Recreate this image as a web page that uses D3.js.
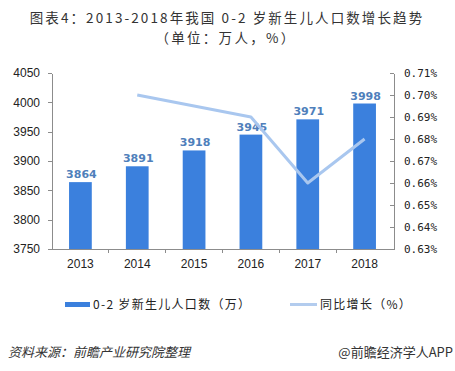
<!DOCTYPE html>
<html lang="zh">
<head>
<meta charset="UTF-8">
<title>0-2岁新生儿人口数增长趋势</title>
<script src="https://d3js.org/d3.v7.min.js"></script>
<style>
  body { margin: 0; background: #fff; }
  svg { display: block; }
  .axis path, .axis line { stroke: #8c8c8c; shape-rendering: crispEdges; }
  .axis text { fill: #222; }
</style>
</head>
<body>
<svg></svg>
<script>
var years = ["2013", "2014", "2015", "2016", "2017", "2018"];
var births = [3864, 3891, 3918, 3945, 3971, 3998];
var growthYears = ["2014", "2015", "2016", "2017", "2018"];
var growth = [0.700, 0.695, 0.690, 0.660, 0.680];
var leftTicks = [3750, 3800, 3850, 3900, 3950, 4000, 4050];
var rightTicks = [0.63, 0.64, 0.65, 0.66, 0.67, 0.68, 0.69, 0.70, 0.71];

var w = 455, h = 371;
var padding = { top: 73, right: 62, bottom: 122, left: 52 };

var svg = d3.select("svg").attr("width", w).attr("height", h);

var x = d3.scaleBand().domain(years)
    .range([padding.left, w - padding.right])
    .paddingInner(0.6).paddingOuter(0.3);
var yL = d3.scaleLinear().domain([3750, 4050]).range([h - padding.bottom, padding.top]);
var yR = d3.scaleLinear().domain([0.63, 0.71]).range([h - padding.bottom, padding.top]);

// title
svg.append("text").attr("x", 227).attr("y", 23).attr("text-anchor", "middle")
    .style("font-family", "'Noto Sans CJK SC', sans-serif").style("font-size", "13.5px")
    .style("letter-spacing", "2.1px").style("fill", "#333")
    .text("图表4：2013-2018年我国 0-2 岁新生儿人口数增长趋势");
svg.append("text").attr("x", 226).attr("y", 43).attr("text-anchor", "middle")
    .style("font-family", "'Noto Sans CJK SC', sans-serif").style("font-size", "13.5px")
    .style("letter-spacing", "2.3px").style("fill", "#333")
    .text("（单位：万人，%）");

// left axis
var gL = svg.append("g").attr("class", "axis")
    .attr("transform", "translate(" + padding.left + ",0)")
    .call(d3.axisLeft(yL).tickValues(leftTicks).tickSize(4).tickSizeOuter(0).tickPadding(8)
        .tickFormat(d3.format("d")));
gL.selectAll("text").style("font-family", "'Liberation Sans', Arial, sans-serif").style("font-size", "12px");

// right axis
var gR = svg.append("g").attr("class", "axis")
    .attr("transform", "translate(" + (w - padding.right + 1) + ",0)")
    .call(d3.axisRight(yR).tickValues(rightTicks).tickSize(-4).tickSizeOuter(0).tickPadding(10)
        .tickFormat(function(d) { return d3.format(".2f")(d) + "%"; }));
gR.selectAll("text").style("font-family", "'DejaVu Sans Mono', monospace").style("font-size", "11px");

// bars
svg.append("g").selectAll("rect").data(births).enter().append("rect")
    .attr("x", function(d, i) { return x(years[i]); })
    .attr("y", function(d) { return yL(d); })
    .attr("width", x.bandwidth())
    .attr("height", function(d) { return yL(3750) - yL(d); })
    .attr("fill", "#3b80dd");

// bar labels
svg.append("g").selectAll("text").data(births).enter().append("text")
    .attr("x", function(d, i) { return x(years[i]) + x.bandwidth() / 2 + 1; })
    .attr("y", function(d) { return yL(d) - 4; })
    .attr("text-anchor", "middle")
    .style("font-family", "'DejaVu Sans', sans-serif").style("font-weight", "bold")
    .style("font-size", "11px").style("fill", "#4f7fbb")
    .text(function(d) { return d; });

// x axis
var gX = svg.append("g").attr("class", "axis")
    .attr("transform", "translate(0," + (h - padding.bottom) + ")")
    .call(d3.axisBottom(x).tickSize(0).tickSizeOuter(0).tickPadding(10));
gX.selectAll("text").style("font-family", "'Liberation Sans', Arial, sans-serif").style("font-size", "12px");
gX.selectAll(".bound").data(d3.range(1, years.length)).enter().append("line")
    .attr("class", "bound")
    .attr("x1", function(i) { return x.range()[0] + i * x.step(); })
    .attr("x2", function(i) { return x.range()[0] + i * x.step(); })
    .attr("y1", 0).attr("y2", 4);

// growth line
var line = d3.line()
    .x(function(d, i) { return x(growthYears[i]) + x.bandwidth() / 2; })
    .y(function(d) { return yR(d); });
svg.append("path").datum(growth)
    .attr("d", line)
    .attr("fill", "none")
    .attr("stroke", "#a9c7ef")
    .attr("stroke-width", 3)
    .attr("stroke-linejoin", "round");

// legend
var legend = svg.append("g").style("font-family", "'Noto Sans CJK SC', sans-serif")
    .style("font-size", "12px").style("letter-spacing", "1.3px");
legend.append("rect").attr("x", 65).attr("y", 302).attr("width", 25).attr("height", 5).attr("fill", "#3b80dd");
legend.append("text").attr("x", 93).attr("y", 309).style("fill", "#222").text("0-2 岁新生儿人口数（万）");
legend.append("line").attr("x1", 290).attr("x2", 317).attr("y1", 304.5).attr("y2", 304.5)
    .attr("stroke", "#b3ccee").attr("stroke-width", 3);
legend.append("text").attr("x", 320).attr("y", 309).style("fill", "#222").text("同比增长（%）");

// footer
svg.append("text").attr("x", 8).attr("y", 357)
    .style("font-family", "'Noto Sans CJK SC', sans-serif").style("font-size", "13px")
    .style("font-style", "italic").style("fill", "#333")
    .text("资料来源：前瞻产业研究院整理");
svg.append("text").attr("x", 453).attr("y", 357).attr("text-anchor", "end")
    .style("font-family", "'Noto Sans CJK SC', sans-serif").style("font-size", "13px").style("fill", "#333")
    .text("@前瞻经济学人APP");
</script>
</body>
</html>
